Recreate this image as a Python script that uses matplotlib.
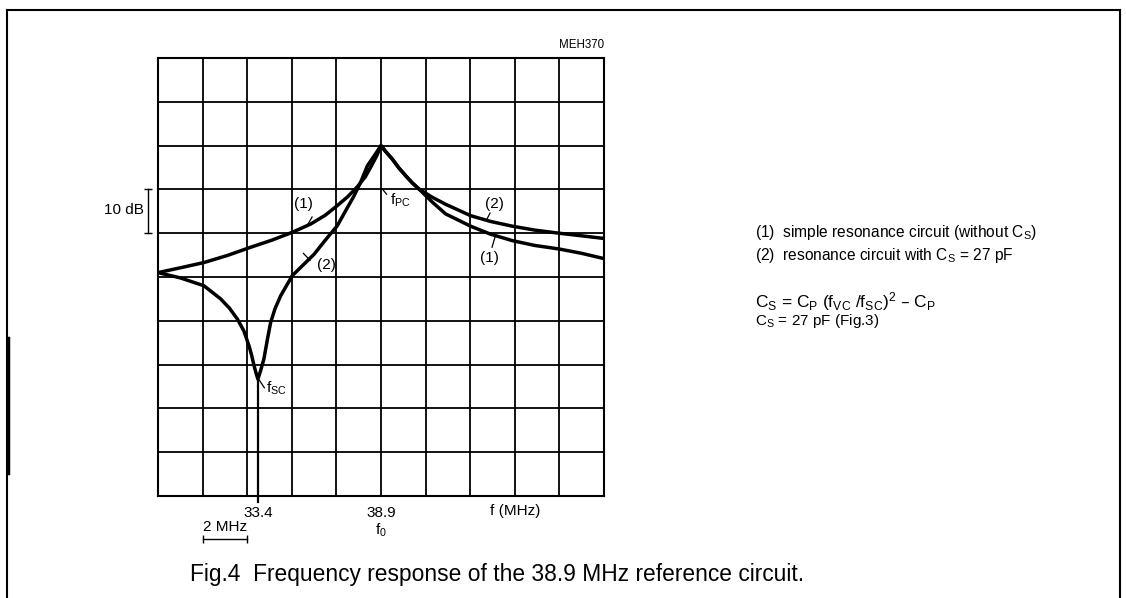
import numpy as np
import matplotlib
matplotlib.use("Agg")
import matplotlib.pyplot as plt
from matplotlib.lines import Line2D

plt.rcParams['font.family'] = ['Liberation Sans', 'DejaVu Sans']
plt.rcParams['mathtext.default'] = 'regular'

# curve (1): simple resonance circuit, frequency in MHz, level in dB (peak = 0)
f1 = [28.9, 29.9, 30.96, 32.0, 33.06, 34.0, 34.92, 35.75, 36.4, 36.94, 37.4, 37.84,
      38.2, 38.44, 38.7, 38.9, 39.1, 39.41, 39.7, 40.01, 40.3, 40.6, 41.2, 41.8,
      42.92, 43.8, 44.79, 45.8, 46.88, 47.9, 48.9]
db1 = [-29.0, -27.9, -26.7, -25.1, -23.2, -21.6, -19.8, -17.9, -15.9, -13.7, -11.7, -9.4,
       -7.1, -4.9, -2.4, 0.0, -1.3, -3.1, -5.1, -6.9, -8.5, -9.9, -12.9, -15.6,
       -18.4, -20.2, -21.7, -22.8, -23.6, -24.6, -25.8]

# curve (2): resonance circuit with Cs = 27 pF
f2 = [28.9, 29.9, 30.96, 31.71, 32.1, 32.46, 32.75, 32.98, 33.1, 33.21, 33.3, 33.38,
      33.5, 33.65, 33.8, 33.95, 34.15, 34.4, 34.92, 35.4, 35.9, 36.4, 36.94, 37.3,
      37.69, 38.0, 38.29, 38.6, 38.9, 39.1, 39.41, 39.7, 40.01, 40.3, 40.6, 41.2,
      41.8, 42.92, 43.8, 44.79, 45.8, 46.88, 47.9, 48.9]
db2 = [-29.0, -30.2, -32.0, -35.0, -37.1, -39.6, -42.3, -45.7, -47.9, -50.3, -52.0, -53.3,
       -51.4, -48.7, -44.4, -40.4, -37.2, -34.3, -29.7, -27.3, -24.8, -21.6, -18.3, -15.0,
       -11.5, -8.2, -4.6, -2.3, 0.0, -1.3, -3.1, -5.1, -6.9, -8.5, -9.9, -11.8,
       -13.4, -16.0, -17.3, -18.4, -19.3, -20.0, -20.6, -21.2]

f_sc = 33.4
f_0 = 38.9
xgrid = np.arange(28.9, 48.95, 2.0)
ygrid = np.arange(-80, 21, 10)

fig = plt.figure(figsize=(11.26, 5.98), dpi=100)
ax = fig.add_axes([158 / 1126, 1 - 496 / 598, 446 / 1126, 438 / 598])

ax.set_xlim(28.9, 48.9)
ax.set_ylim(-80, 20)
ax.set_xticks(xgrid)
ax.set_yticks(ygrid)
ax.set_xticklabels([])
ax.set_yticklabels([])
ax.tick_params(length=0)
ax.grid(True, color='black', lw=1.3)
for s in ax.spines.values():
    s.set_linewidth(1.5)

ax.plot(f1, db1, color='black', lw=2.5, solid_joinstyle='round')
ax.plot(f2, db2, color='black', lw=2.5, solid_joinstyle='round')

# f_sc marker line, running a little below the frame
ax.plot([f_sc, f_sc], [-53.3, -81.4], color='black', lw=1.6, clip_on=False)

# labels on curves with short leaders
def lbl(x, y, s, lx, ly):
    ax.text(x, y, s, fontsize=11, ha='center', va='center')
    ax.plot(lx, ly, color='black', lw=0.9)

lbl(35.4, -13.4, '(1)', [35.81, 35.63], [-16.3, -17.9])
lbl(36.46, -27.3, '(2)', [35.42, 35.72], [-24.6, -26.2])
lbl(43.97, -13.4, '(2)', [43.79, 43.65], [-15.4, -16.8])
lbl(43.77, -25.7, '(1)', [43.88, 44.01], [-23.2, -20.9])
ax.text(39.3, -12.6, '$f_{PC}$', fontsize=11, ha='left', va='center')
ax.plot([38.96, 39.15], [-9.9, -11.1], color='black', lw=0.9)
ax.text(33.75, -55.5, '$f_{SC}$', fontsize=11, ha='left', va='center')
ax.plot([33.45, 33.67], [-53.6, -55.3], color='black', lw=0.9)

# x labels under the grid
ax.text(f_sc, -83.9, '33.4', fontsize=11, ha='center', va='center', clip_on=False)
ax.text(f_0, -83.9, '38.9', fontsize=11, ha='center', va='center', clip_on=False)
ax.text(f_0, -87.8, '$f_0$', fontsize=11, ha='center', va='center', clip_on=False)
ax.text(44.9, -83.5, 'f (MHz)', fontsize=11, ha='center', va='center', clip_on=False)

# 2 MHz scale bar
ax.text(31.9, -87.0, '2 MHz', fontsize=11, ha='center', va='center', clip_on=False)
ax.plot([30.9, 32.9], [-89.8, -89.8], color='black', lw=1.0, clip_on=False,
        marker='|', ms=6, mew=1.0)

# 10 dB bracket
ax.plot([28.45, 28.45], [-10, -20], color='black', lw=1.0, clip_on=False,
        marker='_', ms=6, mew=1.0)
ax.text(28.27, -14.8, '10 dB', fontsize=11, ha='right', va='center', clip_on=False)

ax.text(48.9, 21.5, 'MEH370', fontsize=8.3, ha='right', va='bottom', clip_on=False)

# notes on the right
fig.text(755 / 1126, 1 - 232 / 598, '(1)  simple resonance circuit (without $C_S$)',
         fontsize=11.2, va='center')
fig.text(755 / 1126, 1 - 255 / 598, '(2)  resonance circuit with $C_S$ = 27 pF',
         fontsize=11.2, va='center')
fig.text(755 / 1126, 1 - 302 / 598, '$C_S$ = $C_P$ ($f_{VC}$ /$f_{SC}$)$^2$ \u2013 $C_P$',
         fontsize=12.5, va='center')
fig.text(755 / 1126, 1 - 321 / 598, '$C_S$ = 27 pF (Fig.3)', fontsize=11, va='center')

fig.text(190 / 1126, 1 - 574 / 598,
         'Fig.4  Frequency response of the 38.9 MHz reference circuit.',
         fontsize=16.4, va='center')

# outer frame (open at the bottom)
fw = dict(color='black', lw=1.5, transform=fig.transFigure)
fig.add_artist(Line2D([7 / 1126, 1120 / 1126], [1 - 10 / 598, 1 - 10 / 598], **fw))
fig.add_artist(Line2D([7 / 1126, 7 / 1126], [0, 1 - 10 / 598], **fw))
fig.add_artist(Line2D([1120 / 1126, 1120 / 1126], [0, 1 - 10 / 598], **fw))
fig.add_artist(Line2D([8 / 1126, 8 / 1126], [1 - 473 / 598, 1 - 338 / 598],
                      color='black', lw=2.5, transform=fig.transFigure))

fig.savefig('out.png', dpi=100)
